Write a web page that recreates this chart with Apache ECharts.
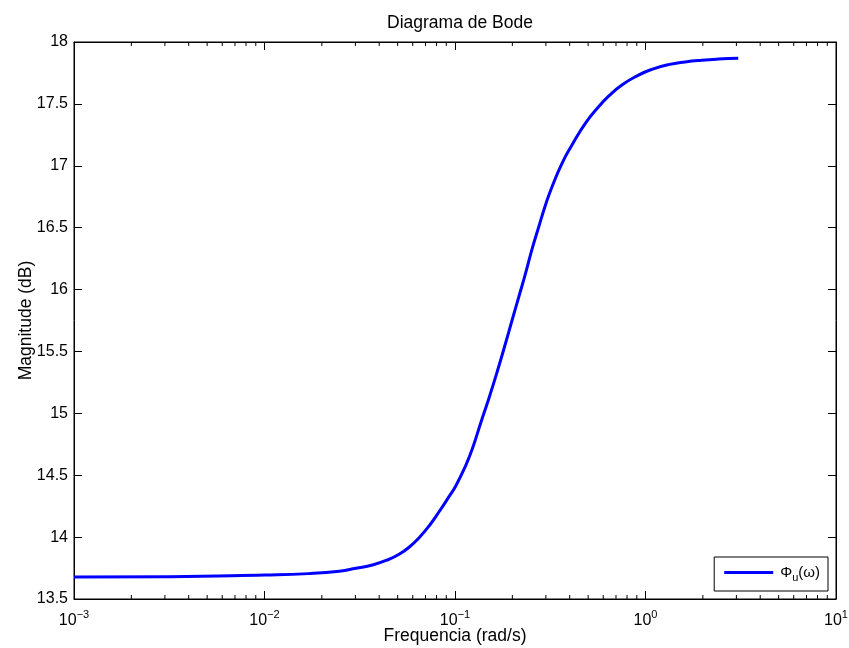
<!DOCTYPE html>
<html>
<head>
<meta charset="utf-8">
<script src="https://cdn.jsdelivr.net/npm/echarts@6/dist/echarts.min.js"></script>
<style>html,body{margin:0;padding:0;background:#fff}#c{width:849px;height:648px}</style>
</head>
<body>
<div id="c"></div>
<script>
var freq = [0.001, 0.00318, 0.01, 0.017, 0.0247, 0.0302, 0.0369, 0.0451, 0.0509, 0.0574, 0.0648, 0.0731, 0.0825, 0.0930, 0.1009, 0.1138, 0.1232, 0.1363, 0.1507, 0.1665, 0.1842, 0.1995, 0.2163, 0.2346, 0.2540, 0.2754, 0.2985, 0.3232, 0.3646, 0.4113, 0.4833, 0.5673, 0.6403, 0.7515, 0.9192, 1.079, 1.320, 1.614, 1.971, 2.411, 3.069];
var magDb = [13.678, 13.68, 13.694, 13.705, 13.724, 13.748, 13.775, 13.821, 13.861, 13.918, 13.995, 14.090, 14.205, 14.327, 14.413, 14.578, 14.712, 14.920, 15.122, 15.336, 15.566, 15.754, 15.942, 16.131, 16.328, 16.508, 16.683, 16.831, 17.020, 17.168, 17.343, 17.477, 17.562, 17.653, 17.733, 17.779, 17.817, 17.839, 17.853, 17.862, 17.868];
var minorTicks = [];
var decades = [0.001, 0.01, 0.1, 1];
decades.forEach(function(d){ for (var k = 2; k <= 9; k++) minorTicks.push(+(d * k).toPrecision(3)); });

var FONT = '"Liberation Sans", Arial, Helvetica, sans-serif';
var chart = echarts.init(document.getElementById('c'), null, {renderer: 'canvas'});

function expLabel(v) {
  var e = Math.round(Math.log10(v));
  var s = e < 0 ? '\u2212' + (-e) : '' + e;
  return '{b|10}{e|' + s + '}';
}

var option = {
  backgroundColor: '#fff',
  animation: false,
  title: {
    text: 'Diagrama de Bode',
    left: 455, top: 9, textAlign: 'center',
    textStyle: {fontFamily: FONT, fontSize: 17.5, fontWeight: 'normal', color: '#000'}
  },
  grid: {left: 74, right: 13, top: 42, bottom: 49, containLabel: false, outerBoundsMode: 'none',
    show: true, borderColor: '#000', borderWidth: 1, backgroundColor: 'transparent'},
  legend: {
    data: [{name: 'Phi', icon: 'rect'}],
    right: 21, bottom: 57,
    orient: 'horizontal',
    backgroundColor: '#fff',
    borderColor: '#000', borderWidth: 1,
    padding: [8, 8, 8, 10],
    itemWidth: 49, itemHeight: 3, itemGap: 4,
    formatter: function(){ return '\u03A6{s|u}(\u03C9)'; },
    textStyle: {fontFamily: FONT, fontSize: 15, color: '#000', padding: [0, 0, 0, 2],
      rich: {s: {fontFamily: FONT, fontSize: 11, color: '#000', padding: [10, 0, 0, 0]}}}
  },
  xAxis: [{
    type: 'log', logBase: 10, min: 0.001, max: 10, interval: 1,
    position: 'bottom',
    name: 'Frequencia (rad/s)', nameLocation: 'middle', nameGap: 28, nameMoveOverlap: false,
    nameTextStyle: {fontFamily: FONT, fontSize: 17.5, color: '#000'},
    axisLine: {show: true, lineStyle: {color: '#000', width: 1}},
    axisTick: {show: true, inside: true, length: 8, lineStyle: {color: '#000'}},
    splitLine: {show: false},
    axisLabel: {
      margin: 10, color: '#000', fontFamily: FONT, fontSize: 16,
      formatter: expLabel,
      rich: {
        b: {fontFamily: FONT, fontSize: 16, color: '#000'},
        e: {fontFamily: FONT, fontSize: 11, color: '#000', padding: [0, 0, 12, 0]}
      }
    }
  }, {
    type: 'log', logBase: 10, min: 0.001, max: 10, interval: 1,
    position: 'top',
    axisLine: {show: true, lineStyle: {color: '#000', width: 1}},
    axisTick: {show: true, inside: true, length: 8, lineStyle: {color: '#000'}},
    axisLabel: {show: false}, splitLine: {show: false}
  }],
  yAxis: [{
    type: 'value', min: 13.5, max: 18, interval: 0.5,
    position: 'left',
    name: 'Magnitude (dB)', nameLocation: 'middle', nameGap: 39, nameMoveOverlap: false,
    nameTextStyle: {fontFamily: FONT, fontSize: 17.5, color: '#000'},
    axisLine: {show: true, lineStyle: {color: '#000', width: 1}},
    axisTick: {show: true, inside: true, length: 8, lineStyle: {color: '#000'}},
    splitLine: {show: false},
    axisLabel: {margin: 6, color: '#000', fontFamily: FONT, fontSize: 16}
  }, {
    type: 'value', min: 13.5, max: 18, interval: 0.5,
    position: 'right',
    axisLine: {show: true, lineStyle: {color: '#000', width: 1}},
    axisTick: {show: true, inside: true, length: 8, lineStyle: {color: '#000'}},
    axisLabel: {show: false}, splitLine: {show: false}
  }],
  series: [{
    name: 'Phi',
    type: 'line',
    xAxisIndex: 0, yAxisIndex: 0,
    data: freq.map(function(f, i){ return [f, magDb[i]]; }),
    smooth: 0.5,
    symbol: 'none', showSymbol: false,
    lineStyle: {color: '#0000FF', width: 3},
    itemStyle: {color: '#0000FF'},
    z: 5
  }, {
    name: 'minor',
    type: 'custom',
    xAxisIndex: 0, yAxisIndex: 0,
    silent: true,
    data: minorTicks.map(function(v){ return [v]; }),
    renderItem: function(params, api) {
      var w = api.value(0);
      var b = api.coord([w, 13.5]);
      var t = api.coord([w, 18]);
      var st = {stroke: '#000', lineWidth: 1};
      return {type: 'group', children: [
        {type: 'line', shape: {x1: b[0], y1: b[1], x2: b[0], y2: b[1] - 4}, style: st},
        {type: 'line', shape: {x1: t[0], y1: t[1], x2: t[0], y2: t[1] + 4}, style: st}
      ]};
    },
    z: 3
  }]
};
chart.setOption(option);
</script>
</body>
</html>
